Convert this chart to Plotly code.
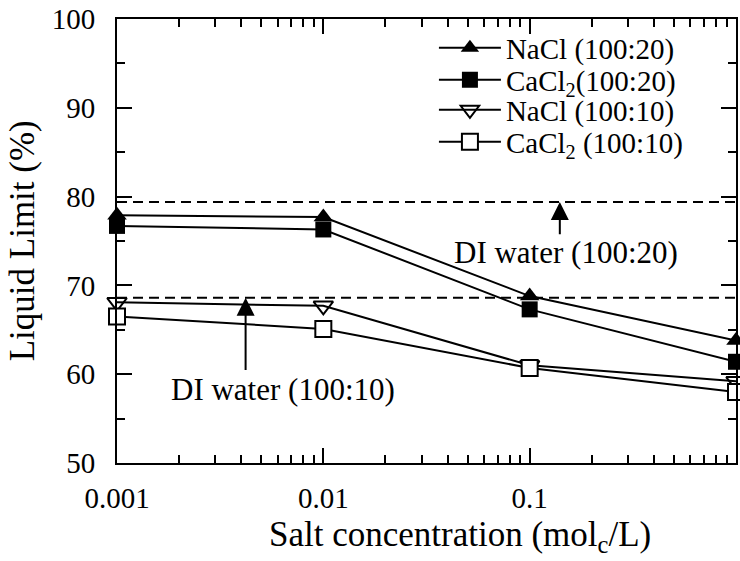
import math
import plotly.graph_objects as go

# Salt concentration (mol_c/L) and liquid limit (%) for each pore fluid
conc = [0.001, 0.01, 0.1, 1]
nacl_20 = [77.9, 77.7, 68.8, 63.8]
cacl2_20 = [76.7, 76.3, 67.3, 61.4]
nacl_10 = [68.1, 67.7, 61.0, 59.2]
cacl2_10 = [66.5, 65.1, 60.7, 58.0]

# Reference liquid limits measured with deionised water
di_water_20 = 79.4
di_water_10 = 68.6

x_tick_vals = [0.001, 0.01, 0.1, 1]
x_tick_text = ["0.001", "0.01", "0.1", "1"]
# minor ticks at 2..9 within each decade
x_minor_vals = [k * d for d in (0.001, 0.01, 0.1) for k in range(2, 10)]

FONT = "Liberation Serif, Times New Roman, serif"
BLACK = "#000000"

series = [
    ("NaCl (100:20)", nacl_20, dict(symbol="triangle-up", size=17, color=BLACK)),
    ("CaCl<sub>2</sub>(100:20)", cacl2_20, dict(symbol="square", size=16, color=BLACK)),
    ("NaCl (100:10)", nacl_10,
     dict(symbol="triangle-down-open", size=17, color=BLACK, line=dict(width=2, color=BLACK))),
    ("CaCl<sub>2</sub> (100:10)", cacl2_10,
     dict(symbol="square", size=16, color="white", line=dict(width=2, color=BLACK))),
]

fig = go.Figure()

# DI water reference levels (dashed)
for level in (di_water_20, di_water_10):
    fig.add_trace(go.Scatter(
        x=[x_tick_vals[0], x_tick_vals[-1]], y=[level, level], mode="lines",
        line=dict(color=BLACK, width=2, dash="10px,6px"),
        showlegend=False, hoverinfo="skip", cliponaxis=False,
    ))

for i, (name, vals, marker) in enumerate(series):
    lg = "legend" if i == 0 else f"legend{i + 1}"
    fig.add_trace(go.Scatter(
        x=conc, y=vals, mode="lines+markers", name=name,
        line=dict(color=BLACK, width=2), marker=marker,
        cliponaxis=False, legend=lg,
    ))

# one legend box per row so the rows sit close together
legend_rows = [0.935, 0.863, 0.795, 0.723]
legend_style = dict(
    x=0.512, xanchor="left", yanchor="middle",
    bgcolor="rgba(0,0,0,0)", borderwidth=0, itemwidth=62,
    font=dict(family=FONT, size=29, color=BLACK),
)
legends = {}
for i, yv in enumerate(legend_rows):
    key = "legend" if i == 0 else f"legend{i + 1}"
    legends[key] = dict(legend_style, y=yv)

label_font = dict(family=FONT, size=31, color=BLACK)
annotations = [
    # arrows pointing at the DI water levels
    dict(x=math.log10(0.14), y=di_water_20, ax=math.log10(0.14), ay=75.6,
         xref="x", yref="y", axref="x", ayref="y", text="", showarrow=True,
         arrowhead=2, arrowsize=1.8, arrowwidth=2, arrowcolor=BLACK, standoff=0),
    dict(x=math.log10(0.0042), y=di_water_10, ax=math.log10(0.0042), ay=60.3,
         xref="x", yref="y", axref="x", ayref="y", text="", showarrow=True,
         arrowhead=2, arrowsize=1.8, arrowwidth=2, arrowcolor=BLACK, standoff=0),
    dict(x=math.log10(0.15), y=73.7, xref="x", yref="y", text="DI water (100:20)",
         showarrow=False, font=label_font),
    dict(x=math.log10(0.0064), y=58.3, xref="x", yref="y", text="DI water (100:10)",
         showarrow=False, font=label_font),
    # axis titles
    dict(x=0.554, y=-0.165, xref="paper", yref="paper", xanchor="center",
         yanchor="middle", text="Salt concentration (mol<sub>c</sub>/L)",
         showarrow=False, font=dict(family=FONT, size=35, color=BLACK)),
    dict(x=-0.153, y=0.5, xref="paper", yref="paper", xanchor="center",
         yanchor="middle", text="Liquid Limit (%)", textangle=-90,
         showarrow=False, font=dict(family=FONT, size=35, color=BLACK)),
]

fig.update_layout(
    width=740, height=561,
    margin=dict(l=117, r=2, t=19, b=98),
    paper_bgcolor="white", plot_bgcolor="white",
    font=dict(family=FONT, color=BLACK),
    annotations=annotations,
    **legends,
)

fig.update_xaxes(
    type="log", range=[-3, 0],
    tickmode="array", tickvals=x_tick_vals, ticktext=x_tick_text,
    ticks="inside", ticklen=15, tickwidth=2, tickcolor=BLACK,
    minor=dict(tickmode="array", tickvals=x_minor_vals, ticks="inside",
               ticklen=8, tickwidth=2, tickcolor=BLACK, showgrid=False),
    showline=True, linewidth=2, linecolor=BLACK, mirror="ticks",
    showgrid=False, zeroline=False,
    tickfont=dict(family=FONT, size=29, color=BLACK), ticklabelstandoff=8,
)
fig.update_yaxes(
    range=[50, 100], dtick=10,
    ticks="inside", ticklen=15, tickwidth=2, tickcolor=BLACK,
    minor=dict(ticks="inside", ticklen=8, tickwidth=2, tickcolor=BLACK, dtick=5, showgrid=False),
    showline=True, linewidth=2, linecolor=BLACK, mirror="ticks",
    showgrid=False, zeroline=False,
    tickfont=dict(family=FONT, size=29, color=BLACK), ticklabelstandoff=14,
)

fig.write_html("out.html")
